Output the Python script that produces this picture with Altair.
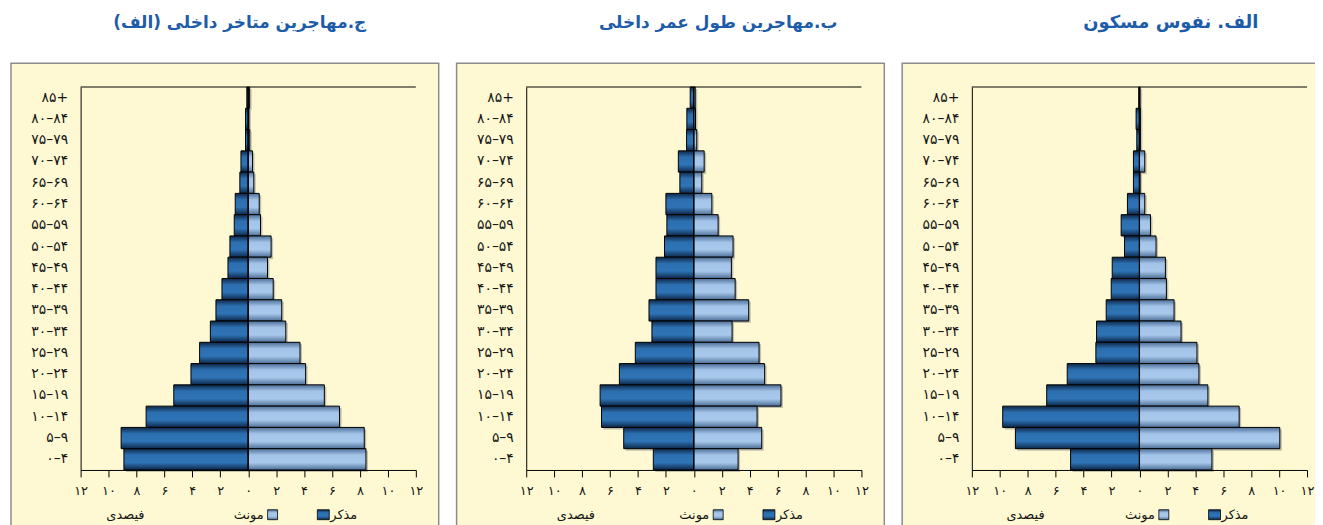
import altair as alt
import pandas as pd

# ---------------- data ----------------
ages = ['۸۵+', '۸۰–۸۴', '۷۵–۷۹', '۷۰–۷۴', '۶۵–۶۹', '۶۰–۶۴', '۵۵–۵۹', '۵۰–۵۴', '۴۵–۴۹',
        '۴۰–۴۴', '۳۵–۳۹', '۳۰–۳۴', '۲۵–۲۹', '۲۰–۲۴', '۱۵–۱۹', '۱۰–۱۴', '۵–۹', '۰–۴']

titles = ['ج.مهاجرین متاخر داخلی (الف)', 'ب.مهاجرین طول عمر داخلی', 'الف.  نفوس مسکون']

# panel ج
male_c = [0.1, 0.19, 0.19, 0.52, 0.6, 0.93, 1.0, 1.31, 1.45, 1.88, 2.31, 2.71, 3.48, 4.1, 5.33, 7.31, 9.1, 8.9]
female_c = [0.1, 0.05, 0.11, 0.31, 0.4, 0.79, 0.88, 1.64, 1.38, 1.79, 2.4, 2.69, 3.71, 4.11, 5.45, 6.54, 8.31, 8.43]
# panel ب
male_b = [0.26, 0.5, 0.52, 1.11, 1.0, 2.0, 1.93, 2.1, 2.71, 2.71, 3.21, 3.0, 4.19, 5.33, 6.71, 6.61, 5.02, 2.9]
female_b = [0.1, 0.12, 0.21, 0.74, 0.57, 1.29, 1.74, 2.81, 2.69, 2.96, 3.93, 2.74, 4.67, 5.07, 6.24, 4.53, 4.86, 3.17]
# panel الف
male_a = [0.05, 0.24, 0.19, 0.43, 0.43, 0.86, 1.31, 1.07, 1.95, 2.02, 2.38, 3.07, 3.12, 5.17, 6.64, 9.79, 8.88, 4.93]
female_a = [0.05, 0.07, 0.07, 0.38, 0.05, 0.38, 0.79, 1.19, 1.86, 1.93, 2.48, 2.98, 4.12, 4.26, 4.9, 7.14, 10.05, 5.19]

tick_values = [-12, -10, -8, -6, -4, -2, 0, 2, 4, 6, 8, 10, 12]
tick_labels = ['۱۲', '۱۰', '۸', '۶', '۴', '۲', '۰', '۲', '۴', '۶', '۸', '۱۰', '۱۲']

legend_male = 'مذکر'
legend_female = 'مونث'
axis_title = 'فیصدی'

# ---------------- style ----------------
W, H = 337, 385
FONT = 'DejaVu Sans'
CREAM = '#FFF9D3'
TITLE_BLUE = '#1d5ca8'
RLM = '\u200f'
title_cx = [160, 193, 200]
title_size = [17, 17, 18]
axis_title_cx = [45, 50, 54]

male_grad = alt.Gradient(gradient='linear', x1=0, x2=0, y1=0, y2=1, stops=[
    alt.GradientStop(color='#0d2748', offset=0),
    alt.GradientStop(color='#2c6fb0', offset=0.3),
    alt.GradientStop(color='#2e74b6', offset=0.65),
    alt.GradientStop(color='#0d2748', offset=1)])
female_grad = alt.Gradient(gradient='linear', x1=0, x2=0, y1=0, y2=1, stops=[
    alt.GradientStop(color='#4d6f96', offset=0),
    alt.GradientStop(color='#a3c3e8', offset=0.3),
    alt.GradientStop(color='#a9c9ec', offset=0.65),
    alt.GradientStop(color='#4d6f96', offset=1)])

label_expr = ' : '.join(f"datum.value == {v} ? '{l}'" for v, l in zip(tick_values, tick_labels)) + " : ''"

one = pd.DataFrame({'k': [0]})


def panel(i, males, females):
    df = pd.DataFrame({'age': ages, 'male': [-m for m in males], 'female': females})
    xscale = alt.Scale(domain=[-12, 12], nice=False, zero=True)
    yenc = alt.Y('age:N', sort=ages, scale=alt.Scale(paddingInner=0, paddingOuter=0),
                 axis=alt.Axis(title=None, ticks=False, labelPadding=13, labelFont=FONT,
                               labelFontSize=14, labelColor='#141414', domainColor='black',
                               domainWidth=1, grid=False, zindex=2))
    xaxis = alt.Axis(values=tick_values, labelExpr=label_expr, title=None, tickSize=7,
                     tickColor='black', domainColor='black', labelPadding=8, grid=False,
                     labelFont=FONT, labelFontSize=13, labelColor='#141414', labelFlush=False,
                     labelOverlap=False, zindex=2)

    bg = alt.Chart(one).mark_rect(fill=CREAM, stroke='#8c8c8c', strokeWidth=1.5).encode(
        x=alt.value(-70), x2=alt.value(W + 23), y=alt.value(-24), y2=alt.value(H + 70))
    title = alt.Chart(one).mark_text(text=RLM + titles[i] + RLM, font=FONT, fontSize=title_size[i],
                                     fontWeight='bold', color=TITLE_BLUE, baseline='middle').encode(
        x=alt.value(title_cx[i]), y=alt.value(-64))

    base = alt.Chart(df)
    shadow_m = base.mark_bar(fill='#7a7a7a', opacity=0.45, xOffset=2, yOffset=2).encode(
        x=alt.X('male:Q', scale=xscale, axis=xaxis), y=yenc)
    shadow_f = base.mark_bar(fill='#7a7a7a', opacity=0.45, xOffset=2, yOffset=2).encode(
        x=alt.X('female:Q', scale=xscale, axis=xaxis), y=yenc)
    bars_m = base.mark_bar(fill=male_grad, stroke='black', strokeWidth=1).encode(
        x=alt.X('male:Q', scale=xscale, axis=xaxis), y=yenc)
    bars_f = base.mark_bar(fill=female_grad, stroke='black', strokeWidth=1).encode(
        x=alt.X('female:Q', scale=xscale, axis=xaxis), y=yenc)
    center = alt.Chart(one).mark_rule(color='black', strokeWidth=1.2).encode(
        x=alt.X(datum=0, scale=xscale, axis=xaxis), y=alt.value(0), y2=alt.value(H))
    top = alt.Chart(one).mark_rule(color='black', strokeWidth=1).encode(
        x=alt.value(0), x2=alt.value(W), y=alt.value(0))

    ly = H + 45
    t_axis = alt.Chart(one).mark_text(text=axis_title, font=FONT, fontSize=13, color='#141414',
                                      baseline='middle').encode(x=alt.value(axis_title_cx[i]), y=alt.value(ly))
    t_fem = alt.Chart(one).mark_text(text=legend_female, font=FONT, fontSize=13, color='#141414',
                                     baseline='middle', align='right').encode(x=alt.value(184), y=alt.value(ly))
    sq_fem = alt.Chart(one).mark_rect(fill=female_grad, stroke='black', strokeWidth=0.8).encode(
        x=alt.value(188), x2=alt.value(198), y=alt.value(ly - 5), y2=alt.value(ly + 5))
    t_mal = alt.Chart(one).mark_text(text=legend_male, font=FONT, fontSize=13, color='#141414',
                                     baseline='middle', align='left').encode(x=alt.value(251), y=alt.value(ly))
    sq_mal = alt.Chart(one).mark_rect(fill=male_grad, stroke='black', strokeWidth=0.8).encode(
        x=alt.value(238), x2=alt.value(250), y=alt.value(ly - 5), y2=alt.value(ly + 5))

    return alt.layer(bg, title, shadow_m, shadow_f, bars_m, bars_f, center, top,
                     t_axis, t_fem, sq_fem, t_mal, sq_mal).properties(width=W, height=H)


chart = alt.hconcat(
    panel(0, male_c, female_c),
    panel(1, male_b, female_b),
    panel(2, male_a, female_a),
    spacing=14,
).properties(padding={'left': 1, 'top': 4, 'right': -17, 'bottom': 0}
).configure_view(stroke=None).configure(background='white')

chart.save('out.html', embed_options={'renderer': 'svg', 'actions': False})
